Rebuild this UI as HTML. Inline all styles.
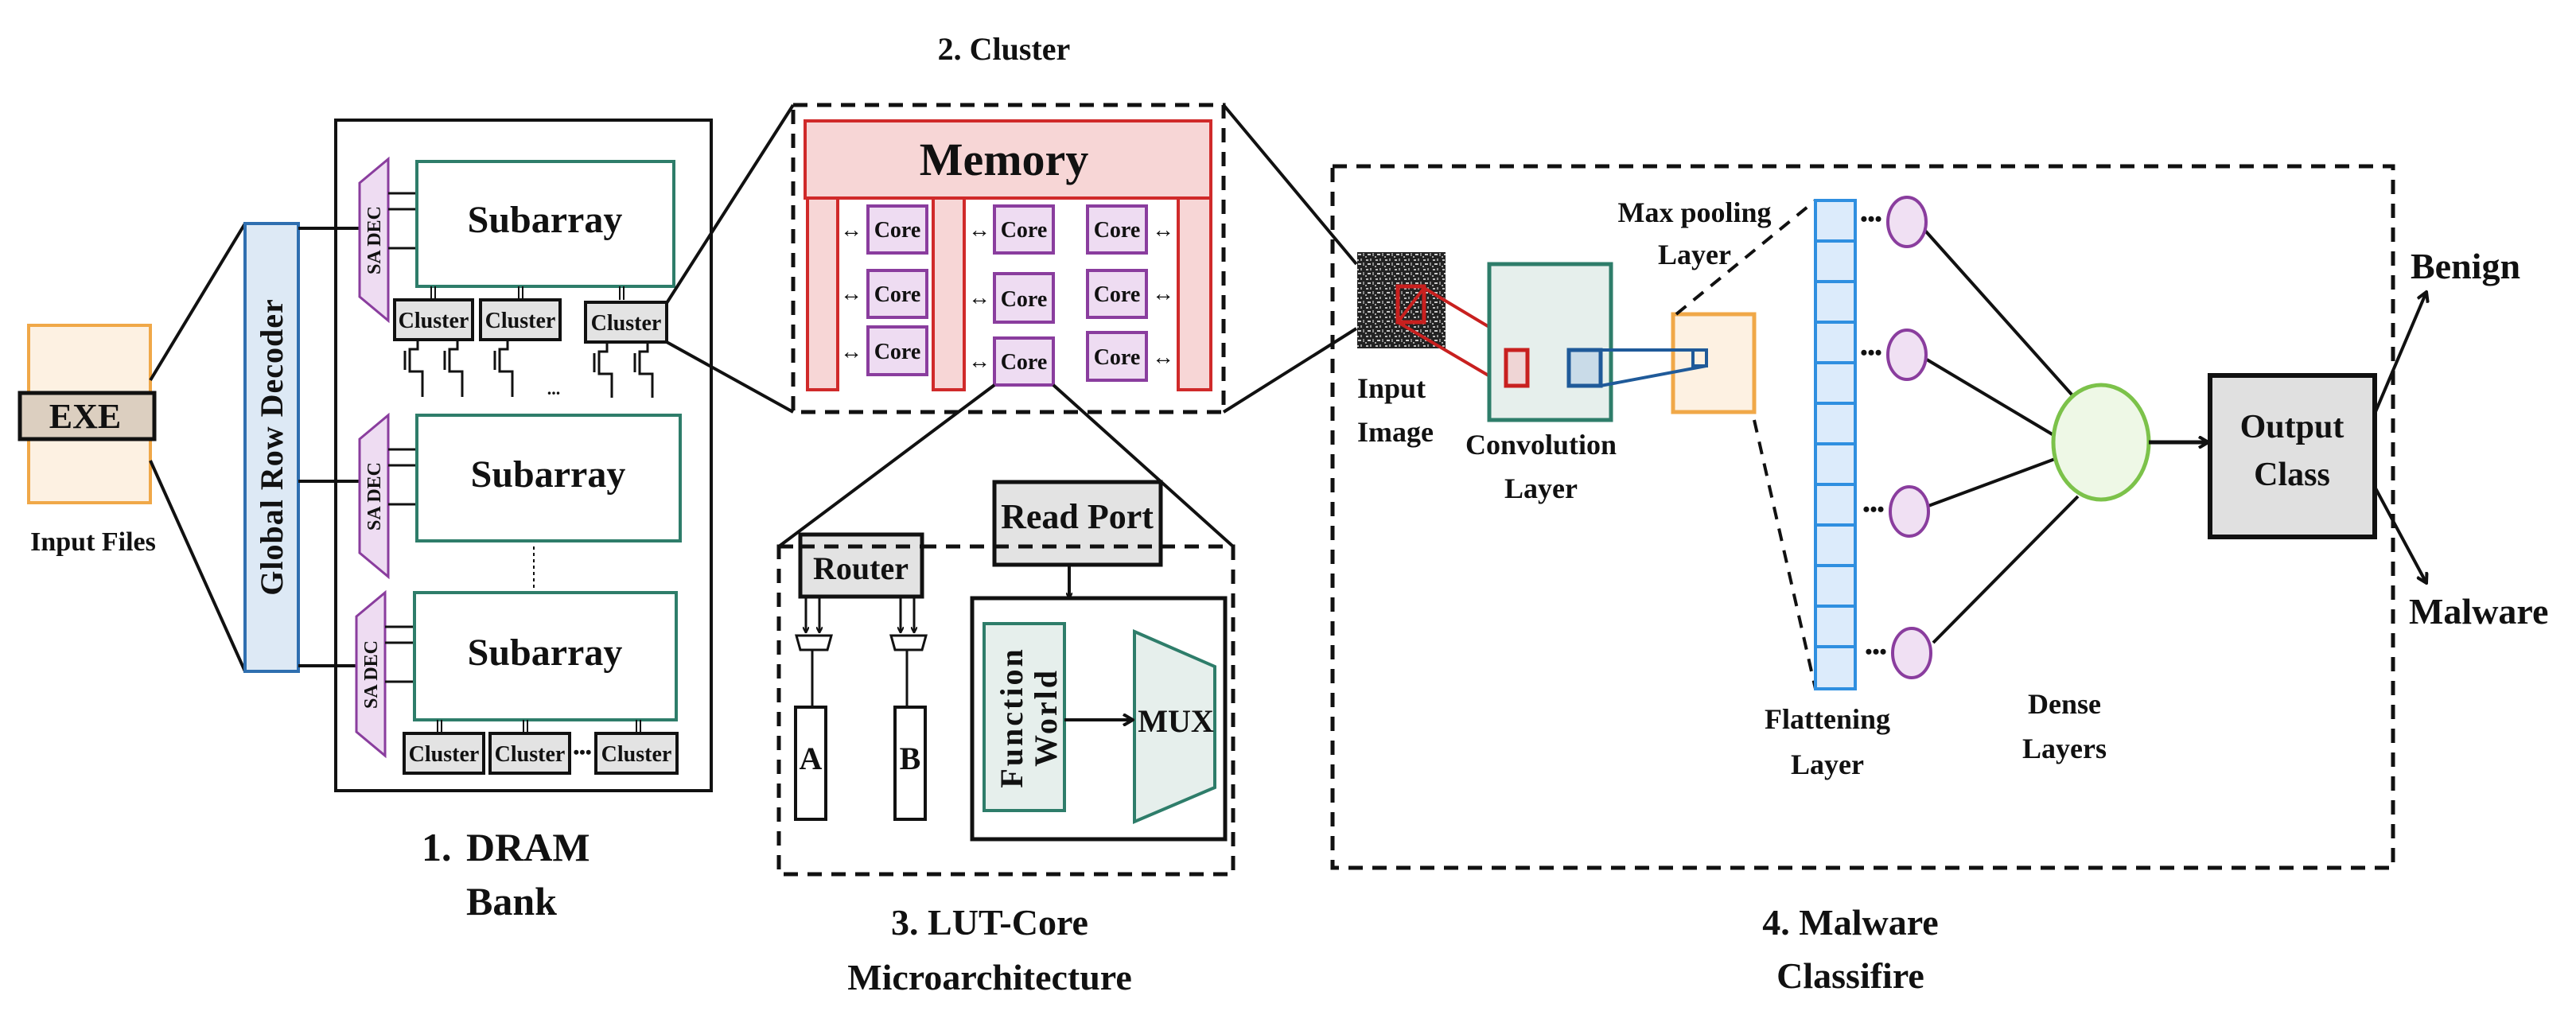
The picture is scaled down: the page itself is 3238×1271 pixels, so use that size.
<!DOCTYPE html>
<html><head><meta charset="utf-8"><style>
html,body{margin:0;padding:0;background:#fff;}
svg{display:block;}
text{font-family:"Liberation Serif",serif;font-weight:bold;fill:#111;}
</style></head><body>
<svg width="3238" height="1271" viewBox="0 0 3238 1271" xmlns="http://www.w3.org/2000/svg">
<defs>
<marker id="ah" markerWidth="8" markerHeight="8" refX="7" refY="4" orient="auto" markerUnits="userSpaceOnUse"><path d="M0,0 L8,4 L0,8" fill="none" stroke="#111" stroke-width="2"/></marker>
<marker id="ah2" markerWidth="16" markerHeight="16" refX="14" refY="8" orient="auto" markerUnits="userSpaceOnUse"><path d="M2,1 L14,8 L2,15" fill="none" stroke="#111" stroke-width="4"/></marker>
<pattern id="noise" width="12" height="12" patternUnits="userSpaceOnUse">
<rect width="12" height="12" fill="#222"/><rect x="1" y="2" width="3" height="2" fill="#bbb"/><rect x="6" y="1" width="2" height="3" fill="#999"/><rect x="3" y="7" width="4" height="2" fill="#ccc"/><rect x="9" y="6" width="2" height="4" fill="#888"/><rect x="0" y="10" width="2" height="2" fill="#aaa"/>
</pattern>
</defs>

<!-- Input files -->
<rect x="36" y="409" width="153" height="223" fill="#fdf1e2" stroke="#f0a848" stroke-width="4"/>
<rect x="25" y="494" width="169" height="58" fill="#dccfc0" stroke="#111" stroke-width="5"/>
<text x="107" y="538" font-size="44" text-anchor="middle">EXE</text>
<text x="117" y="692" font-size="34" text-anchor="middle">Input Files</text>
<line x1="189" y1="478" x2="308" y2="281" stroke="#111" stroke-width="4"/>
<line x1="189" y1="579" x2="308" y2="844" stroke="#111" stroke-width="4"/>

<!-- Global row decoder -->
<rect x="308" y="281" width="67" height="563" fill="#dde9f5" stroke="#2f6fb0" stroke-width="4"/>
<text transform="translate(355,562) rotate(-90)" font-size="40" text-anchor="middle" letter-spacing="1">Global Row Decoder</text>

<!-- DRAM bank -->
<rect x="422" y="151" width="472" height="843" fill="none" stroke="#111" stroke-width="4"/>
<line x1="375" y1="287" x2="452" y2="287" stroke="#111" stroke-width="4"/>
<line x1="375" y1="605" x2="452" y2="605" stroke="#111" stroke-width="4"/>
<line x1="375" y1="837" x2="448" y2="837" stroke="#111" stroke-width="4"/>

<!-- SA DECs -->
<g fill="#eedcf2" stroke="#8a3d9e" stroke-width="3">
<polygon points="452,230 488,200 488,403 452,373"/>
<polygon points="452,552 488,522 488,725 452,695"/>
<polygon points="448,775 484,745 484,950 448,920"/>
</g>
<text transform="translate(478,302) rotate(-90)" font-size="24" text-anchor="middle">SA DEC</text>
<text transform="translate(478,624) rotate(-90)" font-size="24" text-anchor="middle">SA DEC</text>
<text transform="translate(474,848) rotate(-90)" font-size="24" text-anchor="middle">SA DEC</text>
<g stroke="#111" stroke-width="3">
<line x1="488" y1="243" x2="524" y2="243"/><line x1="488" y1="263" x2="524" y2="263"/><line x1="488" y1="312" x2="524" y2="312"/>
<line x1="488" y1="565" x2="524" y2="565"/><line x1="488" y1="585" x2="524" y2="585"/><line x1="488" y1="634" x2="524" y2="634"/>
<line x1="484" y1="788" x2="521" y2="788"/><line x1="484" y1="808" x2="521" y2="808"/><line x1="484" y1="857" x2="521" y2="857"/>
</g>

<!-- Subarrays -->
<g fill="#fff" stroke="#2e7d6a" stroke-width="4">
<rect x="524" y="203" width="323" height="157"/>
<rect x="524" y="522" width="331" height="158"/>
<rect x="521" y="745" width="329" height="160"/>
</g>
<text x="685" y="292" font-size="48" text-anchor="middle">Subarray</text>
<text x="689" y="612" font-size="48" text-anchor="middle">Subarray</text>
<text x="685" y="836" font-size="48" text-anchor="middle">Subarray</text>
<line x1="671" y1="687" x2="671" y2="740" stroke="#111" stroke-width="2" stroke-dasharray="4,4"/>

<!-- cluster links -->
<g stroke="#111" stroke-width="2">
<line x1="542" y1="360" x2="542" y2="377"/><line x1="547" y1="360" x2="547" y2="377"/>
<line x1="652" y1="360" x2="652" y2="377"/><line x1="657" y1="360" x2="657" y2="377"/>
<line x1="779" y1="360" x2="779" y2="377"/><line x1="784" y1="360" x2="784" y2="377"/>
<line x1="550" y1="905" x2="550" y2="922"/><line x1="555" y1="905" x2="555" y2="922"/>
<line x1="658" y1="905" x2="658" y2="922"/><line x1="663" y1="905" x2="663" y2="922"/>
<line x1="800" y1="905" x2="800" y2="922"/><line x1="805" y1="905" x2="805" y2="922"/>
</g>
<g fill="#e3e3e3" stroke="#111" stroke-width="4">
<rect x="496" y="377" width="98" height="50"/><rect x="604" y="377" width="100" height="50"/><rect x="736" y="380" width="102" height="50"/>
<rect x="508" y="922" width="100" height="50"/><rect x="616" y="922" width="100" height="50"/><rect x="749" y="922" width="102" height="50"/>
</g>
<g font-size="28" text-anchor="middle">
<text x="545" y="412">Cluster</text><text x="654" y="412">Cluster</text><text x="787" y="415">Cluster</text>
<text x="558" y="957">Cluster</text><text x="666" y="957">Cluster</text><text x="800" y="957">Cluster</text>
</g>
<text x="732" y="953" font-size="22" text-anchor="middle">•••</text>

<!-- transistors -->
<g fill="none" stroke="#111" stroke-width="3">
<g transform="translate(525,427)"><path d="M0,0 V12 H-10 V40 H6 V72 M-16,14 V38"/></g>
<g transform="translate(575,427)"><path d="M0,0 V12 H-10 V40 H6 V72 M-16,14 V38"/></g>
<g transform="translate(638,427)"><path d="M0,0 V12 H-10 V40 H6 V72 M-16,14 V38"/></g>
<g transform="translate(763,430)"><path d="M0,0 V12 H-10 V40 H6 V70 M-16,14 V38"/></g>
<g transform="translate(814,430)"><path d="M0,0 V12 H-10 V40 H6 V70 M-16,14 V38"/></g>
</g>
<text x="696" y="496" font-size="22" text-anchor="middle">...</text>

<text x="530" y="1082" font-size="50">1.</text>
<text x="586" y="1082" font-size="50">DRAM</text>
<text x="586" y="1150" font-size="50">Bank</text>

<line x1="838" y1="381" x2="997" y2="132" stroke="#111" stroke-width="4"/>
<line x1="838" y1="430" x2="997" y2="518" stroke="#111" stroke-width="4"/>

<!-- 2. Cluster -->
<text x="1262" y="75" font-size="40" text-anchor="middle">2. Cluster</text>
<rect x="997" y="132" width="541" height="386" fill="none" stroke="#111" stroke-width="5" stroke-dasharray="18,12"/>
<g fill="#f7d6d6" stroke="#d02a2a" stroke-width="4">
<rect x="1012" y="152" width="510" height="97"/>
<rect x="1015" y="249" width="38" height="241"/>
<rect x="1173" y="249" width="39" height="241"/>
<rect x="1481" y="249" width="41" height="241"/>
</g>
<text x="1262" y="220" font-size="58" text-anchor="middle">Memory</text>
<g fill="#eedcf2" stroke="#8a3d9e" stroke-width="4">
<rect x="1091" y="259" width="74" height="59"/><rect x="1091" y="340" width="74" height="59"/><rect x="1091" y="411" width="74" height="60"/>
<rect x="1250" y="259" width="74" height="59"/><rect x="1250" y="344" width="74" height="61"/><rect x="1250" y="425" width="74" height="59"/>
<rect x="1367" y="259" width="74" height="59"/><rect x="1367" y="340" width="74" height="59"/><rect x="1367" y="418" width="74" height="60"/>
</g>
<g font-size="28" text-anchor="middle">
<text x="1128" y="298">Core</text><text x="1128" y="379">Core</text><text x="1128" y="451">Core</text>
<text x="1287" y="298">Core</text><text x="1287" y="385">Core</text><text x="1287" y="464">Core</text>
<text x="1404" y="298">Core</text><text x="1404" y="379">Core</text><text x="1404" y="458">Core</text>
</g>
<g font-size="28" text-anchor="middle">
<text x="1070" y="298">↔</text><text x="1070" y="378">↔</text><text x="1070" y="451">↔</text>
<text x="1231" y="298">↔</text><text x="1231" y="383">↔</text><text x="1231" y="463">↔</text>
<text x="1462" y="298">↔</text><text x="1462" y="378">↔</text><text x="1462" y="458">↔</text>
</g>

<line x1="1538" y1="132" x2="1705" y2="332" stroke="#111" stroke-width="4"/>
<line x1="1538" y1="518" x2="1705" y2="413" stroke="#111" stroke-width="4"/>
<line x1="1250" y1="484" x2="979" y2="687" stroke="#111" stroke-width="4"/>
<line x1="1324" y1="484" x2="1550" y2="687" stroke="#111" stroke-width="4"/>

<!-- 3. LUT -->
<rect x="979" y="687" width="571" height="412" fill="none" stroke="#111" stroke-width="5" stroke-dasharray="18,12"/>
<rect x="1006" y="672" width="153" height="78" fill="#e3e3e3" stroke="#111" stroke-width="5"/>
<line x1="1006" y1="687" x2="1159" y2="687" stroke="#111" stroke-width="5" stroke-dasharray="18,12"/>
<text x="1082" y="728" font-size="40" text-anchor="middle">Router</text>
<rect x="1250" y="606" width="209" height="104" fill="#e3e3e3" stroke="#111" stroke-width="5"/>
<line x1="1250" y1="687" x2="1459" y2="687" stroke="#111" stroke-width="5" stroke-dasharray="18,12"/>
<text x="1354" y="664" font-size="44" text-anchor="middle">Read Port</text>
<line x1="1344" y1="710" x2="1344" y2="752" stroke="#111" stroke-width="4" marker-end="url(#ah)"/>
<g stroke="#111" stroke-width="3" fill="none">
<line x1="1013" y1="752" x2="1013" y2="795" marker-end="url(#ah)"/><line x1="1030" y1="752" x2="1030" y2="795" marker-end="url(#ah)"/>
<line x1="1132" y1="752" x2="1132" y2="795" marker-end="url(#ah)"/><line x1="1149" y1="752" x2="1149" y2="795" marker-end="url(#ah)"/>
<polygon points="1001,799 1045,799 1040,817 1006,817"/>
<polygon points="1120,799 1164,799 1159,817 1125,817"/>
<line x1="1021" y1="817" x2="1021" y2="889"/><line x1="1140" y1="817" x2="1140" y2="889"/>
</g>
<rect x="1000" y="889" width="38" height="141" fill="#fff" stroke="#111" stroke-width="4"/>
<rect x="1125" y="889" width="38" height="141" fill="#fff" stroke="#111" stroke-width="4"/>
<text x="1019" y="967" font-size="40" text-anchor="middle">A</text>
<text x="1144" y="967" font-size="40" text-anchor="middle">B</text>
<rect x="1222" y="752" width="318" height="303" fill="#fff" stroke="#111" stroke-width="5"/>
<rect x="1237" y="784" width="101" height="235" fill="#e6efec" stroke="#2e7d6a" stroke-width="4"/>
<text transform="translate(1285,902) rotate(-90)" font-size="40" text-anchor="middle" letter-spacing="3">Function</text>
<text transform="translate(1328,902) rotate(-90)" font-size="40" text-anchor="middle" letter-spacing="3">World</text>
<polygon points="1426,794 1527,838 1527,990 1426,1033" fill="#e6efec" stroke="#2e7d6a" stroke-width="4"/>
<line x1="1338" y1="905" x2="1424" y2="905" stroke="#111" stroke-width="4" marker-end="url(#ah2)"/>
<text x="1478" y="920" font-size="40" text-anchor="middle">MUX</text>
<text x="1244" y="1175" font-size="46" text-anchor="middle">3. LUT-Core</text>
<text x="1244" y="1244" font-size="46" text-anchor="middle">Microarchitecture</text>

<!-- 4. Malware classifier -->
<rect x="1675" y="209" width="1333" height="882" fill="none" stroke="#111" stroke-width="5" stroke-dasharray="18,12"/>
<rect x="1706" y="317" width="111" height="121" fill="url(#noise)"/>
<rect x="1757" y="360" width="33" height="45" fill="none" stroke="#c8201f" stroke-width="5"/>
<polygon points="1790,362 1920,440 1893,485 1757,405" fill="none" stroke="#c8201f" stroke-width="4"/>
<rect x="1872" y="332" width="153" height="196" fill="#e6efec" stroke="#2e7d6a" stroke-width="5"/>
<rect x="1893" y="440" width="27" height="45" fill="#efd5d5" stroke="#c8201f" stroke-width="5"/>
<rect x="2103" y="395" width="102" height="123" fill="#fdf1e2" stroke="#f0a848" stroke-width="5"/>
<rect x="1972" y="440" width="40" height="45" fill="#c9dbe8" stroke="#1f5a99" stroke-width="5"/>
<polygon points="2012,440 2145,440 2145,460 2012,485" fill="none" stroke="#1f5a99" stroke-width="4"/>
<rect x="2128" y="440" width="17" height="20" fill="none" stroke="#1f5a99" stroke-width="4"/>
<text x="1706" y="500" font-size="36">Input</text>
<text x="1706" y="555" font-size="36">Image</text>
<text x="1937" y="571" font-size="36" text-anchor="middle">Convolution</text>
<text x="1937" y="626" font-size="36" text-anchor="middle">Layer</text>
<text x="2130" y="279" font-size="36" text-anchor="middle">Max pooling</text>
<text x="2130" y="332" font-size="36" text-anchor="middle">Layer</text>
<line x1="2107" y1="395" x2="2282" y2="252" stroke="#111" stroke-width="4" stroke-dasharray="16,12"/>
<line x1="2205" y1="528" x2="2282" y2="866" stroke="#111" stroke-width="4" stroke-dasharray="16,12"/>
<g fill="#dcebfb" stroke="#2f8fe0" stroke-width="4">
<rect x="2282" y="252" width="50" height="51"/><rect x="2282" y="303" width="50" height="51"/><rect x="2282" y="354" width="50" height="51"/>
<rect x="2282" y="405" width="50" height="51"/><rect x="2282" y="456" width="50" height="51"/><rect x="2282" y="507" width="50" height="51"/>
<rect x="2282" y="558" width="50" height="51"/><rect x="2282" y="609" width="50" height="51"/><rect x="2282" y="660" width="50" height="51"/>
<rect x="2282" y="711" width="50" height="51"/><rect x="2282" y="762" width="50" height="51"/><rect x="2282" y="813" width="50" height="53"/>
</g>
<text x="2297" y="916" font-size="36" text-anchor="middle">Flattening</text>
<text x="2297" y="973" font-size="36" text-anchor="middle">Layer</text>
<g stroke="#111" stroke-width="4">
<line x1="2420" y1="290" x2="2605" y2="497"/>
<line x1="2422" y1="452" x2="2583" y2="548"/>
<line x1="2424" y1="636" x2="2583" y2="577"/>
<line x1="2430" y1="808" x2="2612" y2="624"/>
</g>
<g fill="#f0e0f3" stroke="#8a3d9e" stroke-width="4">
<ellipse cx="2397" cy="279" rx="24" ry="31"/><ellipse cx="2397" cy="446" rx="24" ry="31"/>
<ellipse cx="2400" cy="643" rx="24" ry="31"/><ellipse cx="2403" cy="821" rx="24" ry="31"/>
</g>
<g font-size="26" text-anchor="middle"><text x="2352" y="284">•••</text><text x="2352" y="452">•••</text><text x="2355" y="649">•••</text><text x="2358" y="828">•••</text></g>
<ellipse cx="2641" cy="556" rx="60" ry="72" fill="#eef8e6" stroke="#7cc24a" stroke-width="5"/>
<text x="2595" y="897" font-size="36" text-anchor="middle">Dense</text>
<text x="2595" y="953" font-size="36" text-anchor="middle">Layers</text>
<line x1="2701" y1="556" x2="2776" y2="556" stroke="#111" stroke-width="5" marker-end="url(#ah2)"/>
<rect x="2778" y="472" width="207" height="203" fill="#e0e0e0" stroke="#111" stroke-width="6"/>
<text x="2881" y="550" font-size="42" text-anchor="middle">Output</text>
<text x="2881" y="610" font-size="42" text-anchor="middle">Class</text>
<line x1="2985" y1="520" x2="3050" y2="367" stroke="#111" stroke-width="4" marker-end="url(#ah2)"/>
<line x1="2985" y1="612" x2="3050" y2="733" stroke="#111" stroke-width="4" marker-end="url(#ah2)"/>
<text x="3030" y="350" font-size="46">Benign</text>
<text x="3028" y="784" font-size="46">Malware</text>
<text x="2326" y="1175" font-size="46" text-anchor="middle">4. Malware</text>
<text x="2326" y="1242" font-size="46" text-anchor="middle">Classifire</text>
</svg>
</body></html>
